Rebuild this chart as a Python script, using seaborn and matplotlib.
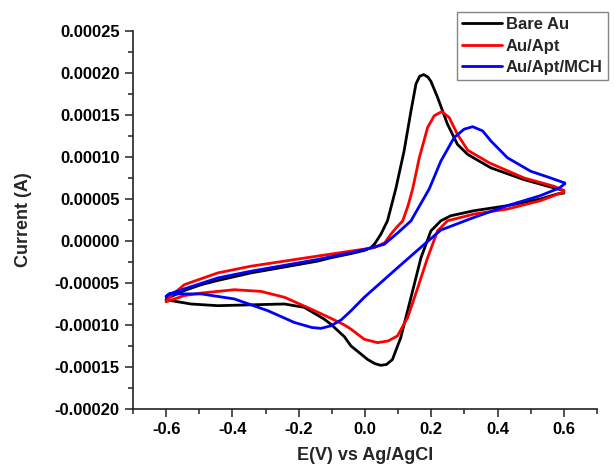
import numpy as np
import pandas as pd
import matplotlib
matplotlib.use("Agg")
import matplotlib.pyplot as plt
from matplotlib.ticker import MultipleLocator, FormatStrFormatter
import seaborn as sns

series_names = ["Bare Au", "Au/Apt", "Au/Apt/MCH"]
series_colors = ["#000000", "#ff0000", "#0000ff"]

# Bare Au: forward sweep then reverse sweep (closed CV loop)
bare_x = [-0.60, -0.59, -0.545, -0.494, -0.444, -0.344, -0.243, -0.143, -0.103, -0.042,
          0.00, 0.018, 0.03, 0.048, 0.068, 0.093, 0.118, 0.139, 0.154, 0.165, 0.177, 0.19,
          0.199, 0.219, 0.249, 0.269, 0.279, 0.31, 0.38, 0.48, 0.571, 0.60,
          0.60, 0.581, 0.53, 0.43, 0.329, 0.259, 0.229, 0.199, 0.169, 0.139, 0.108, 0.083,
          0.065, 0.048, 0.03, 0.008, -0.042, -0.062, -0.103, -0.123, -0.183, -0.243, -0.344,
          -0.444, -0.525, -0.57, -0.60]
bare_y = [-7.0e-5, -6.7e-5, -5.9e-5, -5.2e-5, -4.7e-5, -3.8e-5, -3.1e-5, -2.4e-5, -2.0e-5,
          -1.5e-5, -1.1e-5, -8.0e-6, -3.0e-6, 8.0e-6, 2.4e-5, 6.2e-5, 1.07e-4, 1.55e-4,
          1.87e-4, 1.96e-4, 1.98e-4, 1.95e-4, 1.90e-4, 1.71e-4, 1.39e-4, 1.23e-4, 1.15e-4,
          1.03e-4, 8.7e-5, 7.3e-5, 6.3e-5, 6.0e-5,
          5.7e-5, 5.6e-5, 5.0e-5, 4.2e-5, 3.6e-5, 3.0e-5, 2.4e-5, 1.2e-5, -2.0e-5, -6.7e-5,
          -1.15e-4, -1.41e-4, -1.47e-4, -1.48e-4, -1.46e-4, -1.41e-4, -1.25e-4, -1.14e-4,
          -9.9e-5, -9.3e-5, -7.9e-5, -7.5e-5, -7.6e-5, -7.7e-5, -7.5e-5, -7.2e-5, -7.0e-5]

# Au/Apt
apt_x = [-0.60, -0.59, -0.545, -0.444, -0.344, -0.243, -0.143, -0.042, 0.028, 0.06, 0.078,
         0.095, 0.114, 0.13, 0.144, 0.164, 0.189, 0.209, 0.232, 0.254, 0.279, 0.31, 0.375,
         0.48, 0.571, 0.60,
         0.60, 0.59, 0.53, 0.43, 0.329, 0.249, 0.219, 0.189, 0.159, 0.129, 0.098, 0.07,
         0.038, -0.002, -0.042, -0.062, -0.103, -0.163, -0.243, -0.314, -0.394, -0.494,
         -0.545, -0.59, -0.60]
apt_y = [-7.2e-5, -6.7e-5, -5.2e-5, -3.8e-5, -3.0e-5, -2.4e-5, -1.8e-5, -1.2e-5, -8.0e-6,
         -2.0e-6, 8.0e-6, 1.6e-5, 2.4e-5, 4.2e-5, 6.2e-5, 9.9e-5, 1.35e-4, 1.49e-4, 1.54e-4,
         1.47e-4, 1.27e-4, 1.08e-4, 9.3e-5, 7.5e-5, 6.5e-5, 6.0e-5,
         5.8e-5, 5.7e-5, 4.8e-5, 3.8e-5, 3.2e-5, 2.4e-5, 1.2e-5, -2.0e-5, -5.6e-5, -9.1e-5,
         -1.13e-4, -1.19e-4, -1.21e-4, -1.17e-4, -1.05e-4, -1.0e-4, -9.2e-5, -8.1e-5,
         -6.7e-5, -6.0e-5, -5.8e-5, -6.2e-5, -6.5e-5, -7.1e-5, -7.2e-5]

# Au/Apt/MCH
mch_x = [-0.60, -0.59, -0.545, -0.444, -0.344, -0.243, -0.143, -0.042, 0.00, 0.058, 0.10,
         0.139, 0.165, 0.194, 0.229, 0.269, 0.299, 0.325, 0.355, 0.38, 0.43, 0.50, 0.56,
         0.603,
         0.603, 0.586, 0.53, 0.43, 0.329, 0.249, 0.229, 0.179, 0.098, -0.002, -0.042,
         -0.072, -0.103, -0.133, -0.16, -0.213, -0.293, -0.394, -0.494, -0.59, -0.60]
mch_y = [-6.6e-5, -6.3e-5, -5.7e-5, -4.4e-5, -3.6e-5, -2.9e-5, -2.2e-5, -1.4e-5, -1.0e-5,
         -4.0e-6, 1.0e-5, 2.4e-5, 4.2e-5, 6.2e-5, 9.5e-5, 1.23e-4, 1.33e-4, 1.36e-4,
         1.31e-4, 1.19e-4, 9.9e-5, 8.3e-5, 7.5e-5, 6.9e-5,
         6.8e-5, 6.3e-5, 5.4e-5, 4.2e-5, 2.8e-5, 1.6e-5, 1.3e-5, -4.0e-6, -3.2e-5, -6.7e-5,
         -8.3e-5, -9.4e-5, -1.01e-4, -1.04e-4, -1.03e-4, -9.7e-5, -8.3e-5, -6.9e-5, -6.3e-5,
         -6.3e-5, -6.6e-5]

x_ticks = [-0.6, -0.4, -0.2, 0.0, 0.2, 0.4, 0.6]

frames = []
for name, xs, ys in zip(series_names, [bare_x, apt_x, mch_x], [bare_y, apt_y, mch_y]):
    frames.append(pd.DataFrame({"E": xs, "I": ys, "Electrode": name}))
df = pd.concat(frames, ignore_index=True)

sns.set_style("ticks")
plt.rcParams["font.family"] = ["Liberation Sans", "DejaVu Sans"]
plt.rcParams["font.weight"] = "bold"

fig = plt.figure(figsize=(6.14, 4.68), dpi=100)
ax = fig.add_axes([0.2166, 0.126, 0.7556, 0.808])

sns.lineplot(data=df, x="E", y="I", hue="Electrode", hue_order=series_names,
             palette=series_colors, sort=False, estimator=None, units="Electrode",
             linewidth=2.0, ax=ax, legend=True)
for line in ax.get_lines():
    line.set_solid_joinstyle("round")
    line.set_solid_capstyle("round")

ax.set_xlim(-0.7, 0.7)
ax.set_ylim(-0.0002, 0.00025)
ax.set_xticks(x_ticks)
ax.xaxis.set_minor_locator(MultipleLocator(0.1))
ax.yaxis.set_major_locator(MultipleLocator(0.00005))
ax.yaxis.set_minor_locator(MultipleLocator(0.000025))
ax.xaxis.set_major_formatter(FormatStrFormatter("%.1f"))
ax.yaxis.set_major_formatter(FormatStrFormatter("%.5f"))

for s in ["top", "right"]:
    ax.spines[s].set_visible(False)
for s in ["left", "bottom"]:
    ax.spines[s].set_linewidth(1.2)
    ax.spines[s].set_color("#222222")

ax.tick_params(axis="both", which="major", direction="out", length=6, width=1.1,
               labelsize=12, colors="#222222", labelcolor="black")
ax.tick_params(axis="both", which="minor", direction="out", length=3.5, width=1.1,
               colors="#222222")
for lab in ax.get_xticklabels() + ax.get_yticklabels():
    lab.set_fontweight("bold")

ax.set_xlabel("E(V) vs Ag/AgCl", fontsize=13, fontweight="bold", labelpad=7)
ax.set_ylabel("Current (A)", fontsize=13, fontweight="bold", labelpad=16)

leg = ax.legend(loc="upper left", bbox_to_anchor=(0.698, 1.05), borderaxespad=0,
                frameon=True, fancybox=False, prop={"weight": "bold", "size": 12},
                handlelength=2.4, handletextpad=0.25, labelspacing=0.4,
                borderpad=0.3)
leg.get_frame().set_edgecolor("#666666")
leg.get_frame().set_linewidth(1.0)
leg.set_title(None)
for line in leg.get_lines():
    line.set_linewidth(2.0)

fig.savefig("out.png", dpi=100)
